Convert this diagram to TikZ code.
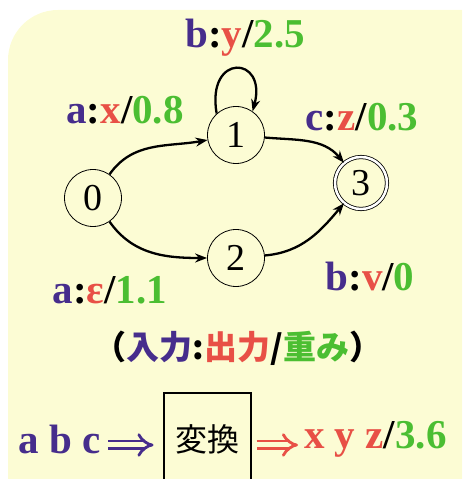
\documentclass[tikz,border=0pt]{standalone}
\usepackage{fontspec}
\newfontfamily\tmsfont{Liberation Serif}
\newfontfamily\jpfont{Noto Sans CJK JP}
\usetikzlibrary{arrows.meta,positioning}
\definecolor{inp}{RGB}{70,45,140}
\definecolor{outp}{RGB}{232,80,70}
\definecolor{wgt}{RGB}{75,190,50}
\definecolor{bgyellow}{RGB}{252,252,212}

\begin{document}
\begin{tikzpicture}[x=1pt,y=1pt,
  state/.style={circle, draw, thick, minimum size=57pt, inner sep=0pt,
    font=\tmsfont\fontsize{38}{38}\selectfont},
  arr/.style={-{Stealth[length=12pt,width=9pt]}, line width=2.3pt},
  lbl/.style={font=\tmsfont\bfseries\fontsize{41}{41}\selectfont, inner sep=0pt},
  imp/.style={double=bgyellow, double distance=5pt, line width=2.8pt, -{Implies}}
]
  \useasboundingbox (0,0) rectangle (467,479);
  % background
  \fill[bgyellow] (8,0) -- (8,419) arc[start angle=180, end angle=90, radius=50]
    -- (462,469) -- (462,0) -- cycle;

  % states
  \node[state] (s0) at (93,281) {0};
  \node[state] (s1) at (236,344) {1};
  \node[state] (s2) at (236,221) {2};
  \node[state, double, double distance=2.5pt, minimum size=52pt] (s3) at (361,296) {3};

  % transitions
  \draw[arr] (s0) to[out=55, in=190] (s1);
  \draw[arr] (s1) to[out=-5, in=130] (s3);
  \draw[arr] (s0) to[out=-55, in=180] (s2);
  \draw[arr] (s2) to[out=5, in=-130] (s3);
  \draw[arr] (s1.132) .. controls +(100:62) and +(75:58) .. (s1.55);

  % labels
  \node[lbl] (l11) at (245,441) {\textcolor{inp}{b}:\textcolor{outp}{y}/\textcolor{wgt}{2.5}};
  \node[lbl] (l01) at (125,369) {\textcolor{inp}{a}:\textcolor{outp}{x}/\textcolor{wgt}{0.8}};
  \node[lbl] (l13) at (362,362) {\textcolor{inp}{c}:\textcolor{outp}{z}/\textcolor{wgt}{0.3}};
  \node[lbl] (l02) at (110,189) {\textcolor{inp}{a}:\textcolor{outp}{ε}/\textcolor{wgt}{1.1}};
  \node[lbl] (l23) at (370,202) {\textcolor{inp}{b}:\textcolor{outp}{v}/\textcolor{wgt}{0}};
  \node[font=\jpfont\bfseries\fontsize{33}{33}\selectfont] (legend) at (238,131)
    {（\textcolor{inp}{入力}:\textcolor{outp}{出力}/\textcolor{wgt}{重み}）};

  % transducer box
  \node[draw, line width=2pt, minimum width=87pt, minimum height=92pt,
    font=\jpfont\fontsize{32}{32}\selectfont] (conv) at (207,40) {変換};
  \node[lbl, text=inp, anchor=east] (in) at (101,40) {a b c};
  \node[lbl, anchor=west] (out) at (304,40) {\textcolor{outp}{x y z}/\textcolor{wgt}{3.6}};
  \draw[imp, inp] ([xshift=7pt,yshift=-6pt]in.east) -- ([xshift=-9pt,yshift=-6pt]conv.west);
  \draw[imp, outp] ([xshift=5pt,yshift=-6pt]conv.east) -- ([xshift=-6pt,yshift=-6pt]out.west);
\end{tikzpicture}
\end{document}
